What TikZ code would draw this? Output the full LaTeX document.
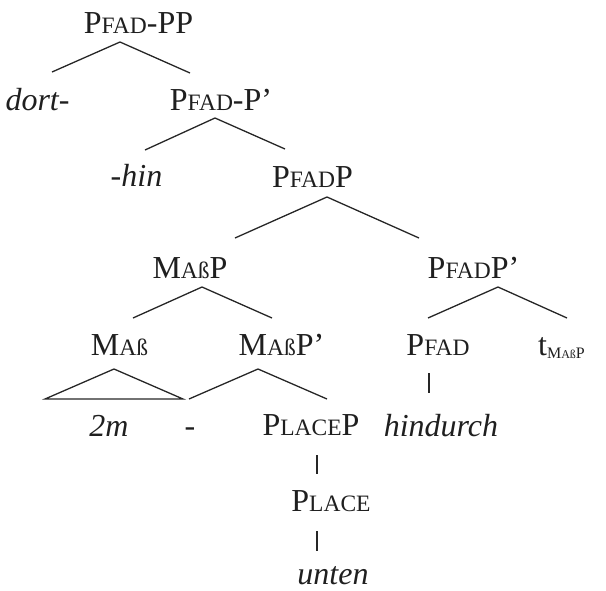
\documentclass[tikz,border=0pt]{standalone}
\usepackage{fontspec}
\setmainfont{Liberation Serif}[ItalicFont={Liberation Serif Italic}]
\newcommand\smc[1]{{\fontsize{23.5}{24}\selectfont #1}}
\newcommand\subbig[1]{{\fontsize{16}{16}\selectfont #1}}
\newcommand\subsmall[1]{{\fontsize{12}{12}\selectfont #1}}
\begin{document}
\begin{tikzpicture}[x=1pt,y=-1pt,
  lbl/.style={inner sep=0pt,anchor=base,text=black!88,font=\fontsize{32}{38}\selectfont},
  branch/.style={line width=1.3pt,draw=black!85},
  bar/.style={line width=1.4pt,draw=black!85}]
\useasboundingbox (0,0) rectangle (606,590);
% labels
\node[lbl] (pfadpp) at (138.5,33) {P\smc{FAD}-PP};
\node[lbl] (dort) at (37.5,110) {\itshape dort-};
\node[lbl] (pfadp1) at (221,110) {P\smc{FAD}-P’};
\node[lbl] (hin) at (136.5,186) {\itshape -hin};
\node[lbl] (pfadP) at (312.5,187) {P\smc{FAD}P};
\node[lbl] (massP) at (190,278) {M\smc{Aß}P};
\node[lbl] (pfadPbar) at (473.5,278) {P\smc{FAD}P’};
\node[lbl] (mass) at (119.5,355) {M\smc{Aß}};
\node[lbl] (massPbar) at (281.5,355) {M\smc{Aß}P’};
\node[lbl] (pfad) at (438,355) {P\smc{FAD}};
\node[lbl,anchor=base west] (trace) at (538,355) {t\raisebox{-3pt}{\subbig{M}\subsmall{Aß}\subbig{P}}};
\node[lbl] (twom) at (109,436) {\itshape 2m};
\node[lbl] (dash) at (190,436) {-};
\node[lbl] (placeP) at (311,435) {P\smc{LACE}P};
\node[lbl] (hindurch) at (441,436) {\itshape hindurch};
\node[lbl] (place) at (331,511) {P\smc{LACE}};
\node[lbl] (unten) at (333,584) {\itshape unten};
% branch points
\coordinate (a1) at (120,42);  \coordinate (a1l) at (52,72);   \coordinate (a1r) at (190,73);
\coordinate (a2) at (215,118); \coordinate (a2l) at (145,150); \coordinate (a2r) at (285,149);
\coordinate (a3) at (327,197); \coordinate (a3l) at (235,238); \coordinate (a3r) at (419,238);
\coordinate (a4) at (202,287); \coordinate (a4l) at (133,318); \coordinate (a4r) at (272,318);
\coordinate (a5) at (498,287); \coordinate (a5l) at (428,318); \coordinate (a5r) at (567,318);
\coordinate (t1) at (114,369); \coordinate (t1l) at (45,399);  \coordinate (t1r) at (183,399);
\coordinate (a6) at (258,369); \coordinate (a6l) at (189,399); \coordinate (a6r) at (327,399);
\coordinate (b1t) at (429,373); \coordinate (b1b) at (429,393);
\coordinate (b2t) at (317,455); \coordinate (b2b) at (317,474);
\coordinate (b3t) at (317,531); \coordinate (b3b) at (317,551);
% connectors
\draw[branch] (a1l) -- (a1) -- (a1r);
\draw[branch] (a2l) -- (a2) -- (a2r);
\draw[branch] (a3l) -- (a3) -- (a3r);
\draw[branch] (a4l) -- (a4) -- (a4r);
\draw[branch] (a5l) -- (a5) -- (a5r);
\draw[branch] (t1l) -- (t1) -- (t1r) -- cycle;
\draw[branch] (a6l) -- (a6) -- (a6r);
\draw[bar] (b1t) -- (b1b);
\draw[bar] (b2t) -- (b2b);
\draw[bar] (b3t) -- (b3b);
\end{tikzpicture}
\end{document}
